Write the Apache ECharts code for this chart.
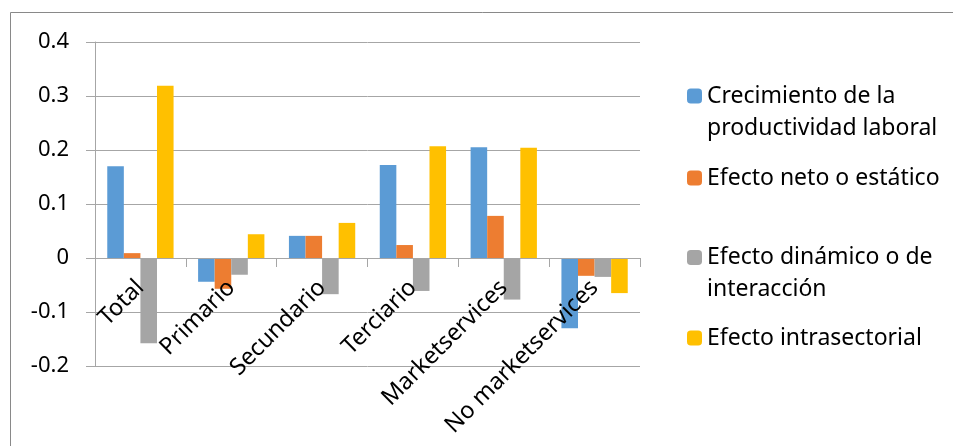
<!DOCTYPE html>
<html>
<head>
<meta charset="utf-8">
<script src="https://cdn.jsdelivr.net/npm/echarts@6/dist/echarts.min.js"></script>
<style>
  html, body { margin: 0; padding: 0; background: #fff; }
  #main { width: 953px; height: 446px; }
</style>
</head>
<body>
<div id="main"></div>
<script>
// categorias del eje x
const categorias = ['Total', 'Primario', 'Secundario', 'Terciario', 'Marketservices', 'No marketservices'];
// nombres de las series (leyenda)
const nombres = [
  'Crecimiento de la\nproductividad laboral',
  'Efecto neto o estático',
  'Efecto dinámico o de\ninteracción',
  'Efecto intrasectorial'
];
// valores
const crecimiento = [0.170, -0.044, 0.041, 0.172, 0.205, -0.130];
const efectoNeto = [0.009, -0.057, 0.041, 0.024, 0.078, -0.033];
const efectoDinamico = [-0.158, -0.031, -0.067, -0.061, -0.077, -0.035];
const efectoIntra = [0.319, 0.044, 0.065, 0.207, 0.204, -0.065];
const colores = ['#5B9BD5', '#ED7D31', '#A5A5A5', '#FFC000'];

const valores = [crecimiento, efectoNeto, efectoDinamico, efectoIntra];
const fuente = '"Noto Sans", "Open Sans", sans-serif';

var myChart = echarts.init(document.getElementById('main'));

// una leyenda por item; en las de dos lineas el icono va con la primera linea
const legendTops = [38.5, 157, 200, 317];
const legends = nombres.map((n, i) => {
  const dosLineas = n.indexOf('\n') >= 0;
  return {
    orient: 'vertical',
    left: 682,
    top: legendTops[i],
    itemWidth: 15,
    itemHeight: 15,
    selectedMode: false,
    data: [n],
    formatter: dosLineas
      ? name => { const p = name.split('\n'); return '{a|' + p[0] + '}\n{b|' + p[1] + '}'; }
      : name => name,
    textStyle: {
      fontFamily: fuente,
      fontSize: 23,
      lineHeight: 32,
      color: '#000',
      rich: {
        a: { fontFamily: fuente, fontSize: 23, lineHeight: 64, verticalAlign: 'bottom', color: '#000' },
        b: { fontFamily: fuente, fontSize: 23, lineHeight: 41, color: '#000' }
      }
    }
  };
});

const option = {
  animation: false,
  color: colores,
  graphic: [{
    type: 'rect',
    shape: { x: 10.5, y: 12.5, width: 1000, height: 500 },
    style: { fill: 'none', stroke: '#898989', lineWidth: 1 },
    silent: true,
    z: -1
  }],
  legend: legends,
  grid: { left: 95, right: 313, top: 42, bottom: 80, outerBoundsMode: 'none' },
  xAxis: {
    type: 'category',
    data: categorias,
    z: 5, // etiquetas por encima de las barras
    axisLine: { onZero: true, lineStyle: { color: '#A6A6A6', width: 1 } },
    axisTick: { show: true, length: 9, lineStyle: { color: '#A6A6A6' } },
    axisLabel: {
      rotate: 45,
      margin: -82,
      interval: 0,
      color: '#000',
      fontFamily: fuente,
      fontSize: 23.5
    }
  },
  yAxis: {
    type: 'value',
    min: -0.2,
    max: 0.4,
    interval: 0.1,
    axisLine: { show: true, lineStyle: { color: '#A6A6A6' } },
    axisTick: { show: true, length: 9, lineStyle: { color: '#A6A6A6' } },
    splitLine: { lineStyle: { color: '#A6A6A6', width: 1 } },
    axisLabel: {
      margin: 26,
      color: '#000',
      fontFamily: fuente,
      fontSize: 22,
      formatter: v => String(Math.round(v * 10) / 10)
    }
  },
  series: valores.map((d, i) => ({
    name: nombres[i],
    type: 'bar',
    data: d,
    barGap: '0%',
    barCategoryGap: '27%'
  }))
};

myChart.setOption(option);
</script>
</body>
</html>
